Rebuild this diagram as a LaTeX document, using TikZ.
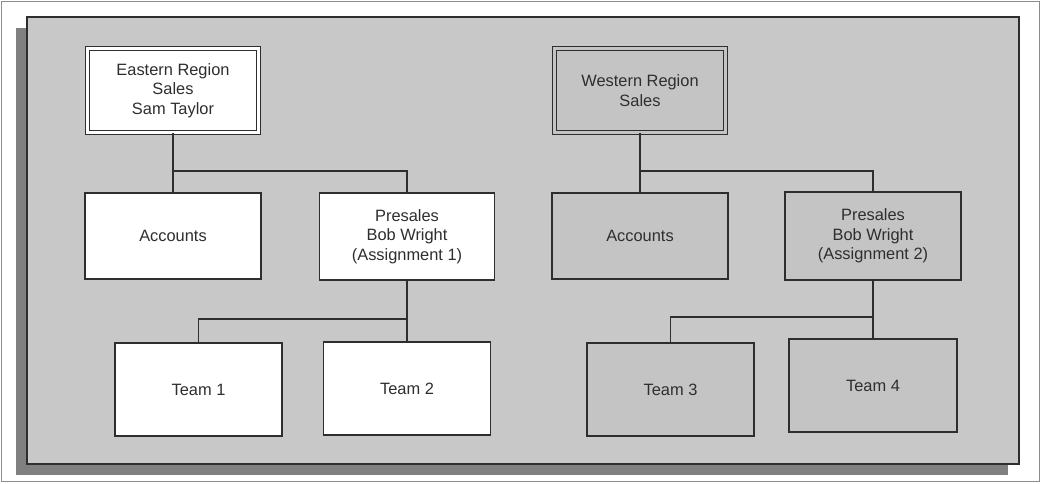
\documentclass[tikz,border=0pt]{standalone}
\usepackage{fontspec}
\setmainfont{Liberation Sans}
\definecolor{panel}{HTML}{C8C8C8}
\definecolor{boxgray}{HTML}{C4C4C4}
\definecolor{shadow}{HTML}{808080}
\definecolor{ink}{HTML}{2E2E2E}
\definecolor{frame}{HTML}{8C8C8C}
\tikzset{
  base/.style={draw=ink, line width=1.3pt, inner sep=0pt, align=center, text=ink,
    font=\fontsize{16.4}{19.5}\selectfont},
  whitebox/.style={base, fill=white},
  graybox/.style={base, fill=boxgray},
  headwhite/.style={base, fill=white, double=white, double distance=2.2pt, line width=1.5pt,
    minimum width=171pt, minimum height=84pt},
  headgray/.style={base, fill=boxgray, double=boxgray, double distance=2.2pt, line width=1.5pt,
    minimum width=171pt, minimum height=84pt},
  link/.style={draw=ink, line width=1.3pt}
}
\begin{document}
\begin{tikzpicture}[x=1pt,y=-1pt]
\useasboundingbox (0,0) rectangle (1041,483);
\draw[frame, line width=1.5pt, fill=white] (1.5,1.5) rectangle (1039.5,481.5);
\fill[shadow] (16,28) rectangle (1008,475);
\draw[fill=panel, draw=ink, line width=1.2pt] (27,17) rectangle (1019,464);

% Eastern
\node[headwhite] (east) at (173,90.5) {Eastern Region\\Sales\\Sam Taylor};
\node[whitebox, minimum width=176pt, minimum height=86pt] (eacc) at (173,236) {Accounts};
\node[whitebox, minimum width=175pt, minimum height=87pt] (epre) at (407,236.5) {Presales\\Bob Wright\\(Assignment 1)};
\node[whitebox, minimum width=167pt, minimum height=93pt] (t1) at (198.5,389.5) {Team 1};
\node[whitebox, minimum width=167pt, minimum height=93pt] (t2) at (407,388.5) {Team 2};

% Western
\node[headgray] (west) at (640,90.5) {Western Region\\Sales};
\node[graybox, minimum width=176pt, minimum height=86pt] (wacc) at (640,236) {Accounts};
\node[graybox, minimum width=176pt, minimum height=88pt] (wpre) at (873,236) {Presales\\Bob Wright\\(Assignment 2)};
\node[graybox, minimum width=167pt, minimum height=93pt] (t3) at (670.5,389.5) {Team 3};
\node[graybox, minimum width=168pt, minimum height=93pt] (t4) at (873,385.5) {Team 4};

% junction coordinates
\coordinate (ej) at (173,171);
\coordinate (wj) at (640,171);
\coordinate (pj) at (407,319);
\coordinate (qj) at (873,317);

\draw[link] (east.south) -- (ej) -- (eacc.north);
\draw[link] (ej) -| (epre.north);
\draw[link] (epre.south) -- (pj) -- (t2.north);
\draw[link] (pj) -| (t1.north);

\draw[link] (west.south) -- (wj) -- (wacc.north);
\draw[link] (wj) -| (wpre.north);
\draw[link] (wpre.south) -- (qj) -- (t4.north);
\draw[link] (qj) -| (t3.north);
\end{tikzpicture}
\end{document}
